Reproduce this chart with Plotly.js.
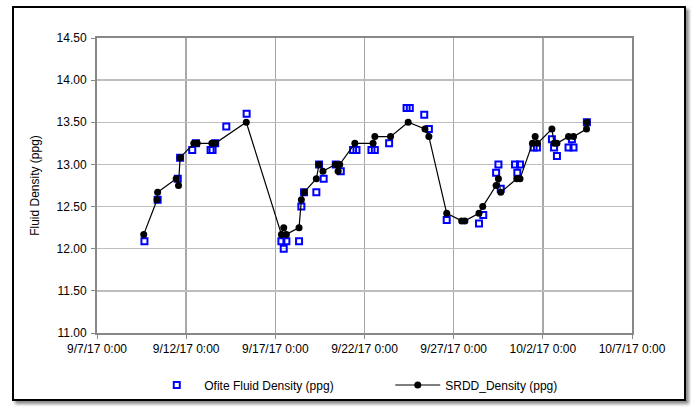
<!DOCTYPE html>
<html>
<head>
<meta charset="utf-8">
<script src="https://cdn.plot.ly/plotly-3.0.1.min.js"></script>
<style>
  html, body { margin: 0; padding: 0; background: #fff; }
  #wrap { position: relative; width: 691px; height: 407px; overflow: hidden; }
  #chart { position: absolute; left: 0; top: 0; width: 691px; height: 407px; }
  #frame { position: absolute; left: 12px; top: 6px; width: 670px; height: 391px;
           border: 2px solid #000; box-shadow: 3px 3px 3px #8a8a8a; pointer-events: none; }
</style>
</head>
<body>
<div id="wrap">
  <div id="chart"></div>
  <div id="frame"></div>
</div>
<script>
// Ofite Fluid Density (ppg) – lab samples
const ofiteTimes = [
  "2017-09-09 15:50", "2017-09-10 09:36", "2017-09-11 12:43", "2017-09-11 15:50",
  "2017-09-12 08:10", "2017-09-12 13:12", "2017-09-13 08:53", "2017-09-13 11:31",
  "2017-09-13 15:07", "2017-09-14 06:00", "2017-09-15 09:22",
  "2017-09-17 08:10", "2017-09-17 11:17", "2017-09-17 14:53", "2017-09-18 07:55",
  "2017-09-18 11:02", "2017-09-18 14:38", "2017-09-19 07:12", "2017-09-19 10:48",
  "2017-09-19 17:02", "2017-09-20 09:22", "2017-09-20 16:05", "2017-09-21 08:38",
  "2017-09-21 13:12", "2017-09-22 09:22", "2017-09-22 13:55", "2017-09-23 09:07",
  "2017-09-24 08:38", "2017-09-24 12:58", "2017-09-25 08:24", "2017-09-25 14:38",
  "2017-09-26 14:38", "2017-09-28 10:05", "2017-09-28 15:50", "2017-09-29 09:07",
  "2017-09-29 12:14", "2017-09-29 15:22", "2017-09-30 10:34", "2017-09-30 13:41",
  "2017-09-30 17:17", "2017-10-01 11:31", "2017-10-01 16:05", "2017-10-02 12:14",
  "2017-10-02 15:07", "2017-10-02 18:58", "2017-10-03 10:34", "2017-10-03 15:07",
  "2017-10-03 17:17", "2017-10-04 11:17"
];
const ofiteDensity = [
  12.09, 12.58, 12.83, 13.08,
  13.17, 13.25, 13.17, 13.17,
  13.25, 13.45, 13.60,
  12.09, 12.00, 12.09, 12.09,
  12.50, 12.67, 12.67, 13.00,
  12.83, 13.00, 12.92, 13.17,
  13.17, 13.17, 13.17, 13.25,
  13.67, 13.67, 13.59, 13.42,
  12.34, 12.30, 12.40, 12.90,
  13.00, 12.71, 13.00, 12.90,
  13.00, 13.20, 13.20, 13.30,
  13.20, 13.10, 13.20, 13.30,
  13.20, 13.50
];

// SRDD_Density (ppg)
const srddTimes = [
  "2017-09-09 14:53", "2017-09-10 08:53", "2017-09-10 09:36", "2017-09-11 10:34",
  "2017-09-11 13:41", "2017-09-11 15:50", "2017-09-12 10:19", "2017-09-12 14:53",
  "2017-09-13 10:34", "2017-09-13 15:07", "2017-09-15 08:53",
  "2017-09-17 08:10", "2017-09-17 11:17", "2017-09-17 14:53", "2017-09-18 07:55",
  "2017-09-18 11:02", "2017-09-18 14:38", "2017-09-19 07:12", "2017-09-19 10:48",
  "2017-09-19 16:05", "2017-09-20 08:53", "2017-09-20 12:29", "2017-09-20 14:38",
  "2017-09-21 11:02", "2017-09-22 11:31", "2017-09-22 13:55", "2017-09-23 11:02",
  "2017-09-24 10:48", "2017-09-25 09:22", "2017-09-25 14:38",
  "2017-09-26 14:38", "2017-09-27 10:48", "2017-09-27 15:07", "2017-09-28 10:05",
  "2017-09-28 15:07", "2017-09-29 09:07", "2017-09-29 12:14", "2017-09-29 15:22",
  "2017-09-30 12:58", "2017-09-30 17:17", "2017-10-01 10:05", "2017-10-01 13:41",
  "2017-10-01 16:48", "2017-10-02 12:14", "2017-10-02 15:07", "2017-10-02 18:58",
  "2017-10-03 10:34", "2017-10-03 17:17", "2017-10-04 10:48", "2017-10-04 11:31"
];
const srddDensity = [
  12.17, 12.58, 12.67, 12.83,
  12.75, 13.08, 13.25, 13.25,
  13.25, 13.25, 13.50,
  12.17, 12.25, 12.17, 12.25,
  12.58, 12.67, 12.83, 13.00,
  12.92, 13.00, 12.92, 13.00,
  13.25, 13.25, 13.33, 13.33,
  13.50, 13.42, 13.33,
  12.42, 12.33, 12.33, 12.42,
  12.50, 12.75, 12.83, 12.67,
  12.83, 12.83, 13.25, 13.33,
  13.25, 13.42, 13.25, 13.25,
  13.33, 13.33, 13.42, 13.50
];

const xTickVals = ["2017-09-07", "2017-09-12", "2017-09-17", "2017-09-22", "2017-09-27", "2017-10-02", "2017-10-07"];
const xTickText = ["9/7/17 0:00", "9/12/17 0:00", "9/17/17 0:00", "9/22/17 0:00", "9/27/17 0:00", "10/2/17 0:00", "10/7/17 0:00"];
const yTickVals = [11.0, 11.5, 12.0, 12.5, 13.0, 13.5, 14.0, 14.5];
const yTickText = ["11.00", "11.50", "12.00", "12.50", "13.00", "13.50", "14.00", "14.50"];

const font = { family: "Liberation Sans, Arial, sans-serif", size: 12, color: "#000" };

const traces = [
  {
    type: "scatter", mode: "markers", name: "Ofite Fluid Density (ppg)",
    x: ofiteTimes, y: ofiteDensity,
    marker: { symbol: "square-open", size: 6, color: "#0000ff", line: { width: 2, color: "#0000ff" } }
  },
  {
    type: "scatter", mode: "lines+markers", name: "SRDD_Density (ppg)",
    x: srddTimes, y: srddDensity,
    line: { color: "#000", width: 1.2 },
    marker: { symbol: "circle", size: 7, color: "#000" }
  }
];

const layout = {
  width: 691, height: 407,
  margin: { l: 97, r: 59, t: 38, b: 74, autoexpand: false },
  paper_bgcolor: "rgba(0,0,0,0)", plot_bgcolor: "#fff",
  font: font,
  showlegend: true,
  legend: {
    orientation: "h", xref: "container", yref: "container",
    x: 0.216, xanchor: "left", y: 0.054, yanchor: "middle",
    font: font, itemwidth: 45, entrywidth: 181, entrywidthmode: "pixels", bgcolor: "rgba(0,0,0,0)"
  },
  xaxis: {
    type: "date", range: ["2017-09-07", "2017-10-07"],
    tickmode: "array", tickvals: xTickVals, ticktext: xTickText,
    showgrid: true, gridcolor: "#a8a8a8", gridwidth: 1.5,
    showline: true, linecolor: "#888", linewidth: 2, mirror: true,
    ticks: "outside", ticklen: 4, tickcolor: "#888", tickwidth: 1,
    zeroline: false, tickfont: font
  },
  yaxis: {
    range: [11, 14.5],
    tickmode: "array", tickvals: yTickVals, ticktext: yTickText,
    showgrid: true, gridcolor: "#bdbdbd", gridwidth: 1.5,
    showline: true, linecolor: "#888", linewidth: 2, mirror: true,
    ticks: "outside", ticklen: 4, tickcolor: "#888", tickwidth: 1, ticklabelstandoff: 2,
    zeroline: false, tickfont: font,
    title: { text: "Fluid Density (ppg)", font: font, standoff: 14 }
  }
};

Plotly.newPlot("chart", traces, layout, { staticPlot: true, displayModeBar: false });
</script>
</body>
</html>
